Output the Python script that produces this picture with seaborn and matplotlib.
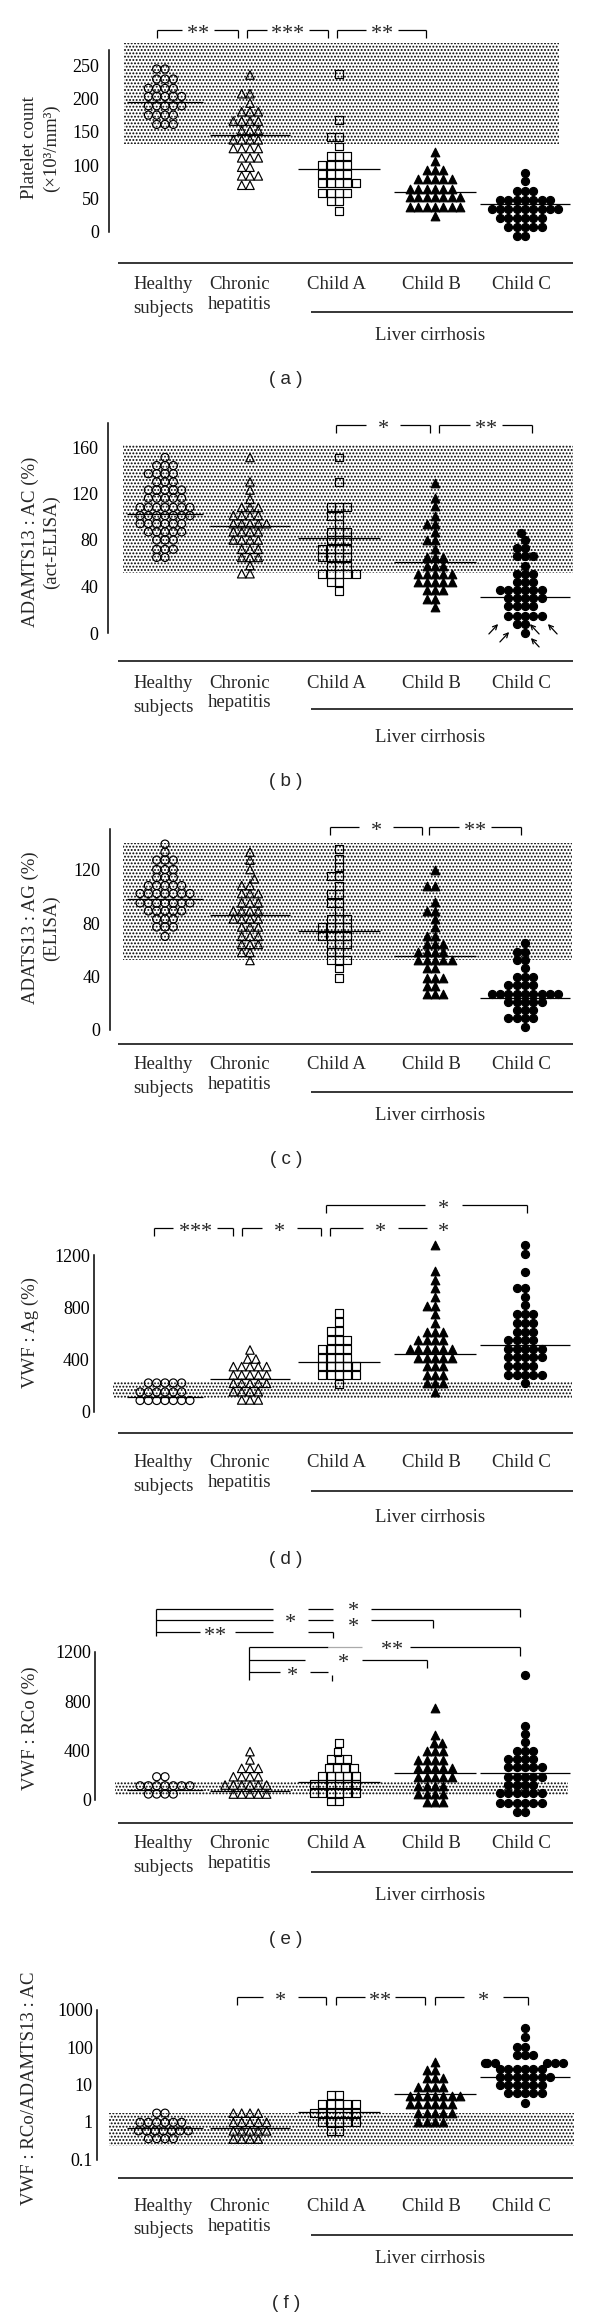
import numpy as np
import pandas as pd
import matplotlib
matplotlib.use("Agg")
import matplotlib.pyplot as plt
from matplotlib.lines import Line2D
from matplotlib.patches import FancyArrowPatch
from matplotlib.ticker import NullLocator
import seaborn as sns

# ---------------- data: (value, number of points) ----------------
groups = ["Healthy subjects", "Chronic hepatitis", "Child A", "Child B", "Child C"]

# (a) Platelet count (x10^3/mm^3)
a_healthy = [(244, 2), (229, 3), (215, 4), (203, 5), (189, 5), (175, 4), (161, 3)]
a_chronic = [(235, 1), (207, 2), (193, 1), (180, 3), (166, 4), (152, 3), (138, 4), (125, 4),
             (111, 3), (97, 2), (84, 3), (70, 2)]
a_child_a = [(236, 1), (168, 1), (142, 2), (128, 1), (114, 3), (100, 4), (87, 4), (73, 5),
             (59, 4), (46, 2), (32, 1)]
a_child_b = [(120, 1), (107, 1), (93, 3), (79, 5), (65, 6), (52, 7), (38, 7), (24, 1)]
a_child_c = [(89, 1), (76, 1), (62, 3), (48, 7), (35, 9), (21, 6), (7, 5), (-6, 2)]
a_medians = [194, 145, 94, 60, 42]

# (b) ADAMTS13:AC (%) act-ELISA
b_healthy = [(151, 1), (144, 3), (137, 4), (130, 3), (123, 5), (116, 5), (108, 7), (101, 7),
             (94, 6), (87, 5), (80, 3), (72, 3), (65, 2)]
b_chronic = [(151, 1), (130, 1), (123, 1), (115, 1), (108, 3), (101, 4), (94, 5), (87, 4),
             (80, 4), (72, 3), (65, 3), (58, 1), (51, 2)]
b_child_a = [(151, 1), (130, 1), (108, 3), (101, 2), (94, 1), (87, 3), (80, 3), (72, 4),
             (65, 4), (58, 3), (51, 5), (44, 2), (36, 1)]
b_child_b = [(129, 1), (116, 1), (109, 1), (101, 1), (94, 2), (87, 1), (80, 2), (72, 1),
             (65, 3), (58, 3), (51, 5), (44, 5), (37, 3), (29, 2), (22, 1)]
b_child_c = [(86, 1), (80, 1), (73, 2), (66, 3), (58, 1), (51, 3), (44, 3), (37, 6), (30, 5),
             (23, 4), (15, 5), (8, 2), (0, 1)]
b_medians = [102, 92, 82, 61, 31]

# (c) ADATS13:AG (%) ELISA
c_healthy = [(139, 1), (133, 1), (127, 3), (120, 3), (114, 3), (108, 5), (102, 7), (95, 7),
             (89, 5), (83, 3), (77, 3), (70, 1)]
c_chronic = [(133, 1), (127, 1), (120, 1), (113, 1), (108, 2), (102, 3), (95, 3), (89, 4),
             (83, 4), (77, 3), (70, 3), (64, 3), (58, 2), (52, 1)]
c_child_a = [(135, 1), (128, 1), (122, 1), (115, 2), (108, 1), (102, 2), (95, 2), (89, 1),
             (83, 3), (77, 4), (70, 4), (64, 3), (58, 2), (52, 3), (46, 1), (39, 1)]
c_child_b = [(120, 1), (108, 2), (96, 1), (89, 2), (83, 1), (77, 1), (70, 2), (64, 3),
             (58, 4), (52, 5), (46, 2), (39, 3), (33, 2), (27, 3)]
c_child_c = [(65, 1), (58, 2), (52, 2), (46, 1), (40, 3), (34, 4), (27, 9), (21, 5), (15, 3),
             (9, 4), (2, 1)]
c_medians = [98, 86, 74, 55, 24]

# (d) VWF:Ag (%)
d_healthy = [(222, 5), (153, 6), (88, 7)]
d_chronic = [(474, 1), (405, 2), (347, 5), (283, 5), (219, 5), (155, 4), (92, 3)]
d_child_a = [(754, 1), (686, 1), (620, 2), (551, 3), (482, 4), (416, 4), (355, 5), (283, 5),
             (214, 1)]
d_child_b = [(1277, 1), (1078, 1), (1009, 1), (945, 1), (882, 1), (813, 2), (746, 1), (677, 1),
             (613, 3), (550, 4), (481, 6), (415, 5), (354, 3), (283, 3), (219, 3), (150, 1)]
d_child_c = [(1277, 1), (1208, 1), (1073, 1), (945, 2), (881, 1), (818, 1), (749, 3), (683, 3),
             (614, 3), (550, 4), (479, 5), (418, 5), (352, 4), (283, 5), (219, 1)]
d_medians = [115, 252, 382, 443, 515]

# (e) VWF:RCo (%)
e_healthy = [(188, 2), (115, 7), (48, 4)]
e_chronic = [(391, 1), (324, 1), (256, 3), (188, 4), (121, 6), (48, 5)]
e_child_a = [(462, 1), (391, 1), (328, 3), (256, 4), (194, 5), (129, 6), (59, 6), (-12, 2)]
e_child_b = [(741, 1), (525, 1), (458, 2), (395, 3), (326, 4), (260, 5), (188, 5), (117, 4),
             (50, 4), (-20, 3)]
e_child_c = [(1010, 1), (598, 1), (533, 1), (465, 1), (399, 3), (329, 4), (264, 5), (188, 5),
             (121, 4), (54, 6), (-22, 6), (-95, 2)]
e_medians = [80, 75, 147, 215, 215]

# (f) VWF:RCo/ADAMTS13:AC (log scale)
f_healthy = [(1.72, 2), (0.98, 6), (0.58, 7), (0.36, 4)]
f_chronic = [(1.72, 4), (0.98, 5), (0.58, 5), (0.35, 4)]
f_child_a = [(5.2, 2), (3.0, 5), (1.72, 6), (0.98, 5), (0.57, 2)]
f_child_b = [(40, 1), (24, 2), (14.6, 3), (8.8, 4), (4.9, 7), (3.0, 6), (1.7, 5), (1.0, 4)]
f_child_c = [(321, 1), (185, 1), (100, 2), (61, 3), (38, 6), (26, 6), (15.8, 7), (9.7, 6),
             (5.9, 5), (3.2, 1)]
f_medians = [0.69, 0.69, 1.85, 5.5, 16]

# normal (reference) ranges, shaded
normal_ranges = [(131, 283), (52, 162), (52, 140), (107, 230), (40, 147), (0.23, 1.74)]

y_labels = [["Platelet count", "(\u00d710\u00b3/mm\u00b3)"],
            ["ADAMTS13 : AC (%)", "(act-ELISA)"],
            ["ADATS13 : AG (%)", "(ELISA)"],
            ["VWF : Ag (%)"],
            ["VWF : RCo (%)"],
            ["VWF : RCo/ADAMTS13 : AC"]]
tick_values = [[0, 50, 100, 150, 200, 250], [0, 40, 80, 120, 160], [0, 40, 80, 120],
               [0, 400, 800, 1200], [0, 400, 800, 1200], [0.1, 1, 10, 100, 1000]]
tick_labels = [[str(t) for t in tick_values[0]], [str(t) for t in tick_values[1]],
               [str(t) for t in tick_values[2]], [str(t) for t in tick_values[3]],
               [str(t) for t in tick_values[4]], ["0.1", "1", "10", "100", "1000"]]
panel_tags = ["( a )", "( b )", "( c )", "( d )", "( e )", "( f )"]

panel_data = [
    ([a_healthy, a_chronic, a_child_a, a_child_b, a_child_c], a_medians),
    ([b_healthy, b_chronic, b_child_a, b_child_b, b_child_c], b_medians),
    ([c_healthy, c_chronic, c_child_a, c_child_b, c_child_c], c_medians),
    ([d_healthy, d_chronic, d_child_a, d_child_b, d_child_c], d_medians),
    ([e_healthy, e_chronic, e_child_a, e_child_b, e_child_c], e_medians),
    ([f_healthy, f_chronic, f_child_a, f_child_b, f_child_c], f_medians),
]

# ---------------- layout (pixels of the 600 x 2319 canvas) ----------------
W, H = 600, 2319
UNIT = 100.0                      # one x data unit = 100 px
pos_px = [165, 250, 339, 435, 525]
positions = [p / UNIT for p in pos_px]
half_w = [0.38, 0.40, 0.41, 0.41, 0.45]
label_px = [163, 240, 336, 431, 521]

specs = [
    dict(zero=232, k=0.668, vmin=-22, vmax=290, top=272, lo=0, log=False, tdir="out", sx=109, shx=(124, 559)),
    dict(zero=633, k=1.1625, vmin=-15, vmax=190, top=181, lo=0, log=False, tdir="out", sx=108, shx=(123, 573)),
    dict(zero=1030, k=1.3375, vmin=-8, vmax=160, top=150, lo=0, log=False, tdir="out", sx=110, shx=(123, 572)),
    dict(zero=1412, k=0.1308, vmin=-80, vmax=1330, top=1200, lo=0, log=False, tdir="in", sx=94, shx=(113, 572)),
    dict(zero=1800, k=0.1237, vmin=-140, vmax=1250, top=1200, lo=0, log=False, tdir="in", sx=95, shx=(115, 568)),
    dict(zero=2122, k=37.5, vmin=0.07, vmax=1500, top=1000, lo=0.1, log=True, tdir="in", sx=97, shx=(109, 574)),
]
bottoms = [
    (263, 289, 313, 309, 312, 340, 380),
    (661, 688, 712, 707, 709, 742, 781),
    (1044, 1069, 1093, 1089, 1092, 1120, 1159),
    (1433, 1467, 1491, 1487, 1491, 1522, 1560),
    (1823, 1848, 1872, 1868, 1872, 1900, 1940),
    (2178, 2211, 2234, 2231, 2235, 2263, 2303),
]
ylabel_y = [148, 542, 928, 1333, 1728, 2088]

# marker, face, size used for swarm packing, size drawn
styles = [
    dict(marker="o", fc="none", pack=5.0, size=5.8),
    dict(marker="^", fc="none", pack=5.0, size=6.1),
    dict(marker="s", fc="none", pack=5.0, size=5.7),
    dict(marker="^", fc="black", pack=5.0, size=6.2),
    dict(marker="o", fc="black", pack=5.0, size=5.8),
]
MLW = 0.7

sns.set_style("white")
plt.rcParams["font.family"] = ["Liberation Serif", "DejaVu Sans"]
plt.rcParams["hatch.linewidth"] = 0.9

fig = plt.figure(figsize=(W / 100, H / 100), dpi=100)
fig.patch.set_facecolor("white")


def fx(x):
    return x / W


def fy(y):
    return 1 - y / H


def hl(x1, x2, y, lw=0.9, color="black"):
    fig.add_artist(Line2D([fx(x1), fx(x2)], [fy(y), fy(y)], lw=lw, color=color,
                          solid_capstyle="butt"))


def vl(x, y1, y2, lw=0.9):
    fig.add_artist(Line2D([fx(x), fx(x)], [fy(y1), fy(y2)], lw=lw, color="black",
                          solid_capstyle="butt"))


def stars(x, y, n, dy=0):
    sp = 11
    for i in range(n):
        xx = x + (i - (n - 1) / 2) * sp
        fig.text(fx(xx), fy(y + 9 + dy), "*", ha="center", va="baseline",
                 fontsize=16, family="Liberation Serif")


def bracket(x1, x2, y, n, tx=None, gap=34, drop=8):
    if tx is None:
        tx = (x1 + x2) / 2
    hl(x1, tx - gap / 2, y)
    hl(tx + gap / 2, x2, y)
    vl(x1, y, y + drop)
    vl(x2, y, y + drop)
    stars(tx, y, n)


swarm_colls = []

for i, (spec, (glists, meds)) in enumerate(zip(specs, panel_data)):
    zero, k = spec["zero"], spec["k"]
    if spec["log"]:
        top_px = zero - k * np.log10(spec["vmax"])
        bot_px = zero - k * np.log10(spec["vmin"])
    else:
        top_px = zero - k * spec["vmax"]
        bot_px = zero - k * spec["vmin"]
    ax = fig.add_axes([0, fy(bot_px), 1, (bot_px - top_px) / H])
    ax.patch.set_visible(False)
    if spec["log"]:
        ax.set_yscale("log")
    ax.set_xlim(0, W / UNIT)
    ax.set_ylim(spec["vmin"], spec["vmax"])

    lo, hi = normal_ranges[i]
    ax.axhspan(lo, hi, xmin=spec["shx"][0] / W, xmax=spec["shx"][1] / W,
               facecolor="white", edgecolor="#000000", hatch=".....", linewidth=0, zorder=0.5)

    for g, pairs in enumerate(glists):
        vals = [v for v, n in pairs for _ in range(n)]
        df = pd.DataFrame({"x": [positions[g]] * len(vals), "y": vals})
        st = styles[g]
        n_before = len(ax.collections)
        sns.swarmplot(data=df, x="x", y="y", native_scale=True, orient="x", ax=ax,
                      marker=st["marker"], size=st["pack"], color="black",
                      edgecolor="black", linewidth=MLW, legend=False, warn_thresh=1.0)
        for coll in ax.collections[n_before:]:
            coll.set_facecolor(st["fc"])
            coll.set_edgecolor("black")
            swarm_colls.append((coll, st["size"]))

    ax.hlines(meds, [p - h for p, h in zip(positions, half_w)],
              [p + h for p, h in zip(positions, half_w)], color="black", lw=0.9, zorder=5)

    ax.set_xlim(0, W / UNIT)
    ax.set_ylim(spec["vmin"], spec["vmax"])
    for s in ["top", "right", "bottom"]:
        ax.spines[s].set_visible(False)
    ax.spines["left"].set_position(("data", spec["sx"] / UNIT))
    ax.spines["left"].set_bounds(spec["lo"], spec["top"])
    ax.spines["left"].set_linewidth(1.1)
    ax.spines["left"].set_color("black")
    ax.set_xticks([])
    ax.set_xlabel("")
    ax.set_ylabel("")
    ax.set_yticks(tick_values[i])
    ax.set_yticklabels(tick_labels[i], fontsize=13, family="Liberation Serif")
    if spec["log"]:
        ax.yaxis.set_minor_locator(NullLocator())
    ax.tick_params(axis="y", which="both", direction=spec["tdir"], length=4, width=1.0,
                   pad=3, colors="black")

    # y label
    lines = y_labels[i]
    if len(lines) == 2:
        fig.text(fx(30), fy(ylabel_y[i]), lines[0], rotation=90, ha="center", va="center", fontsize=13.5)
        fig.text(fx(51), fy(ylabel_y[i]), lines[1], rotation=90, ha="center", va="center", fontsize=13.5)
    else:
        fig.text(fx(30), fy(ylabel_y[i]), lines[0], rotation=90, ha="center", va="center", fontsize=13.5)

    # category area below
    ay, b1, b2h, b2c, uy, lb, ty = bottoms[i]
    hl(118, 573, ay, lw=1.1)
    fig.text(fx(label_px[0]), fy(b1), "Healthy", ha="center", va="baseline", fontsize=13.5)
    fig.text(fx(label_px[0]), fy(b2h), "subjects", ha="center", va="baseline", fontsize=13.5)
    fig.text(fx(label_px[1]), fy(b1), "Chronic", ha="center", va="baseline", fontsize=13.5)
    fig.text(fx(label_px[1]), fy(b2c), "hepatitis", ha="center", va="baseline", fontsize=13.5)
    for g in range(2, 5):
        fig.text(fx(label_px[g]), fy(b1), groups[g], ha="center", va="baseline", fontsize=13.5)
    hl(311, 573, uy, lw=1.1)
    fig.text(fx(430), fy(lb), "Liver cirrhosis", ha="center", va="baseline", fontsize=13.5)
    fig.text(fx(286), fy(ty), panel_tags[i], ha="center", va="center", fontsize=13.5,
             family="Liberation Sans")

# freeze the swarm layout (packed with a slightly smaller collision size), then draw markers full size
fig.canvas.draw()
for coll, sz in swarm_colls:
    if "draw" in coll.__dict__:
        del coll.draw
    coll.set_sizes([sz ** 2])
    coll.set_linewidth(0.85)

# ---------------- significance brackets ----------------
# (a)
bracket(157, 238, 30, 2, gap=32)
bracket(247, 328, 30, 3, gap=42)
bracket(337, 426, 30, 2, gap=32)
# (b)
bracket(336, 430, 425, 1)
bracket(439, 532, 425, 2, gap=32)
# (c)
bracket(330, 422, 827, 1)
bracket(429, 521, 827, 2, gap=32)
# (d)
hl(326, 425, 1205); hl(462, 527, 1205); vl(326, 1205, 1213); vl(527, 1205, 1213)
stars(443, 1205, 1)
bracket(154, 233, 1228, 3, tx=195, gap=44)
bracket(242, 321, 1228, 1, tx=279, gap=35)
hl(330, 363, 1228); vl(330, 1228, 1236); stars(380, 1228, 1); hl(398, 427, 1228)
stars(443, 1228, 1)
# (e)
vl(156, 1609, 1636)
hl(156, 273, 1609); hl(308, 333, 1609); stars(353, 1607, 1); hl(371, 520, 1609); vl(520, 1609, 1617)
hl(156, 273, 1620); stars(290, 1619, 1); hl(308, 333, 1620); stars(353, 1623, 1)
hl(371, 433, 1620); vl(433, 1620, 1628)
hl(156, 200, 1632); stars(215, 1632, 2); hl(235, 273, 1632); hl(308, 333, 1632); vl(333, 1632, 1638)
vl(249, 1647, 1680)
hl(249, 328, 1647); hl(328, 362, 1647, color="#aaaaaa"); stars(392, 1646, 2); hl(410, 520, 1647)
vl(520, 1647, 1656)
hl(249, 305, 1660); stars(343, 1659, 1); hl(362, 427, 1660); vl(427, 1660, 1668)
hl(249, 280, 1672); stars(292, 1672, 1); hl(310, 328, 1672); vl(332, 1675, 1681)
# (f)
bracket(237, 326, 1997, 1, tx=280, gap=35)
bracket(336, 425, 1997, 2, tx=380, gap=30)
bracket(435, 528, 1997, 1, tx=483, gap=39)

# arrows in (b) pointing at Child C values below detection
arrow_px = [((487, 636), (500, 622)), ((498, 644), (511, 630)), ((541, 636), (528, 622)),
            ((541, 649), (529, 636)), ((559, 636), (546, 622))]
for (tx_, ty_), (hx_, hy_) in arrow_px:
    fig.add_artist(FancyArrowPatch(
        (fx(tx_), fy(ty_)), (fx(hx_), fy(hy_)), transform=fig.transFigure,
        arrowstyle="->", mutation_scale=8, lw=0.9, color="black"))

fig.savefig("out.png", dpi=100, facecolor="white")
